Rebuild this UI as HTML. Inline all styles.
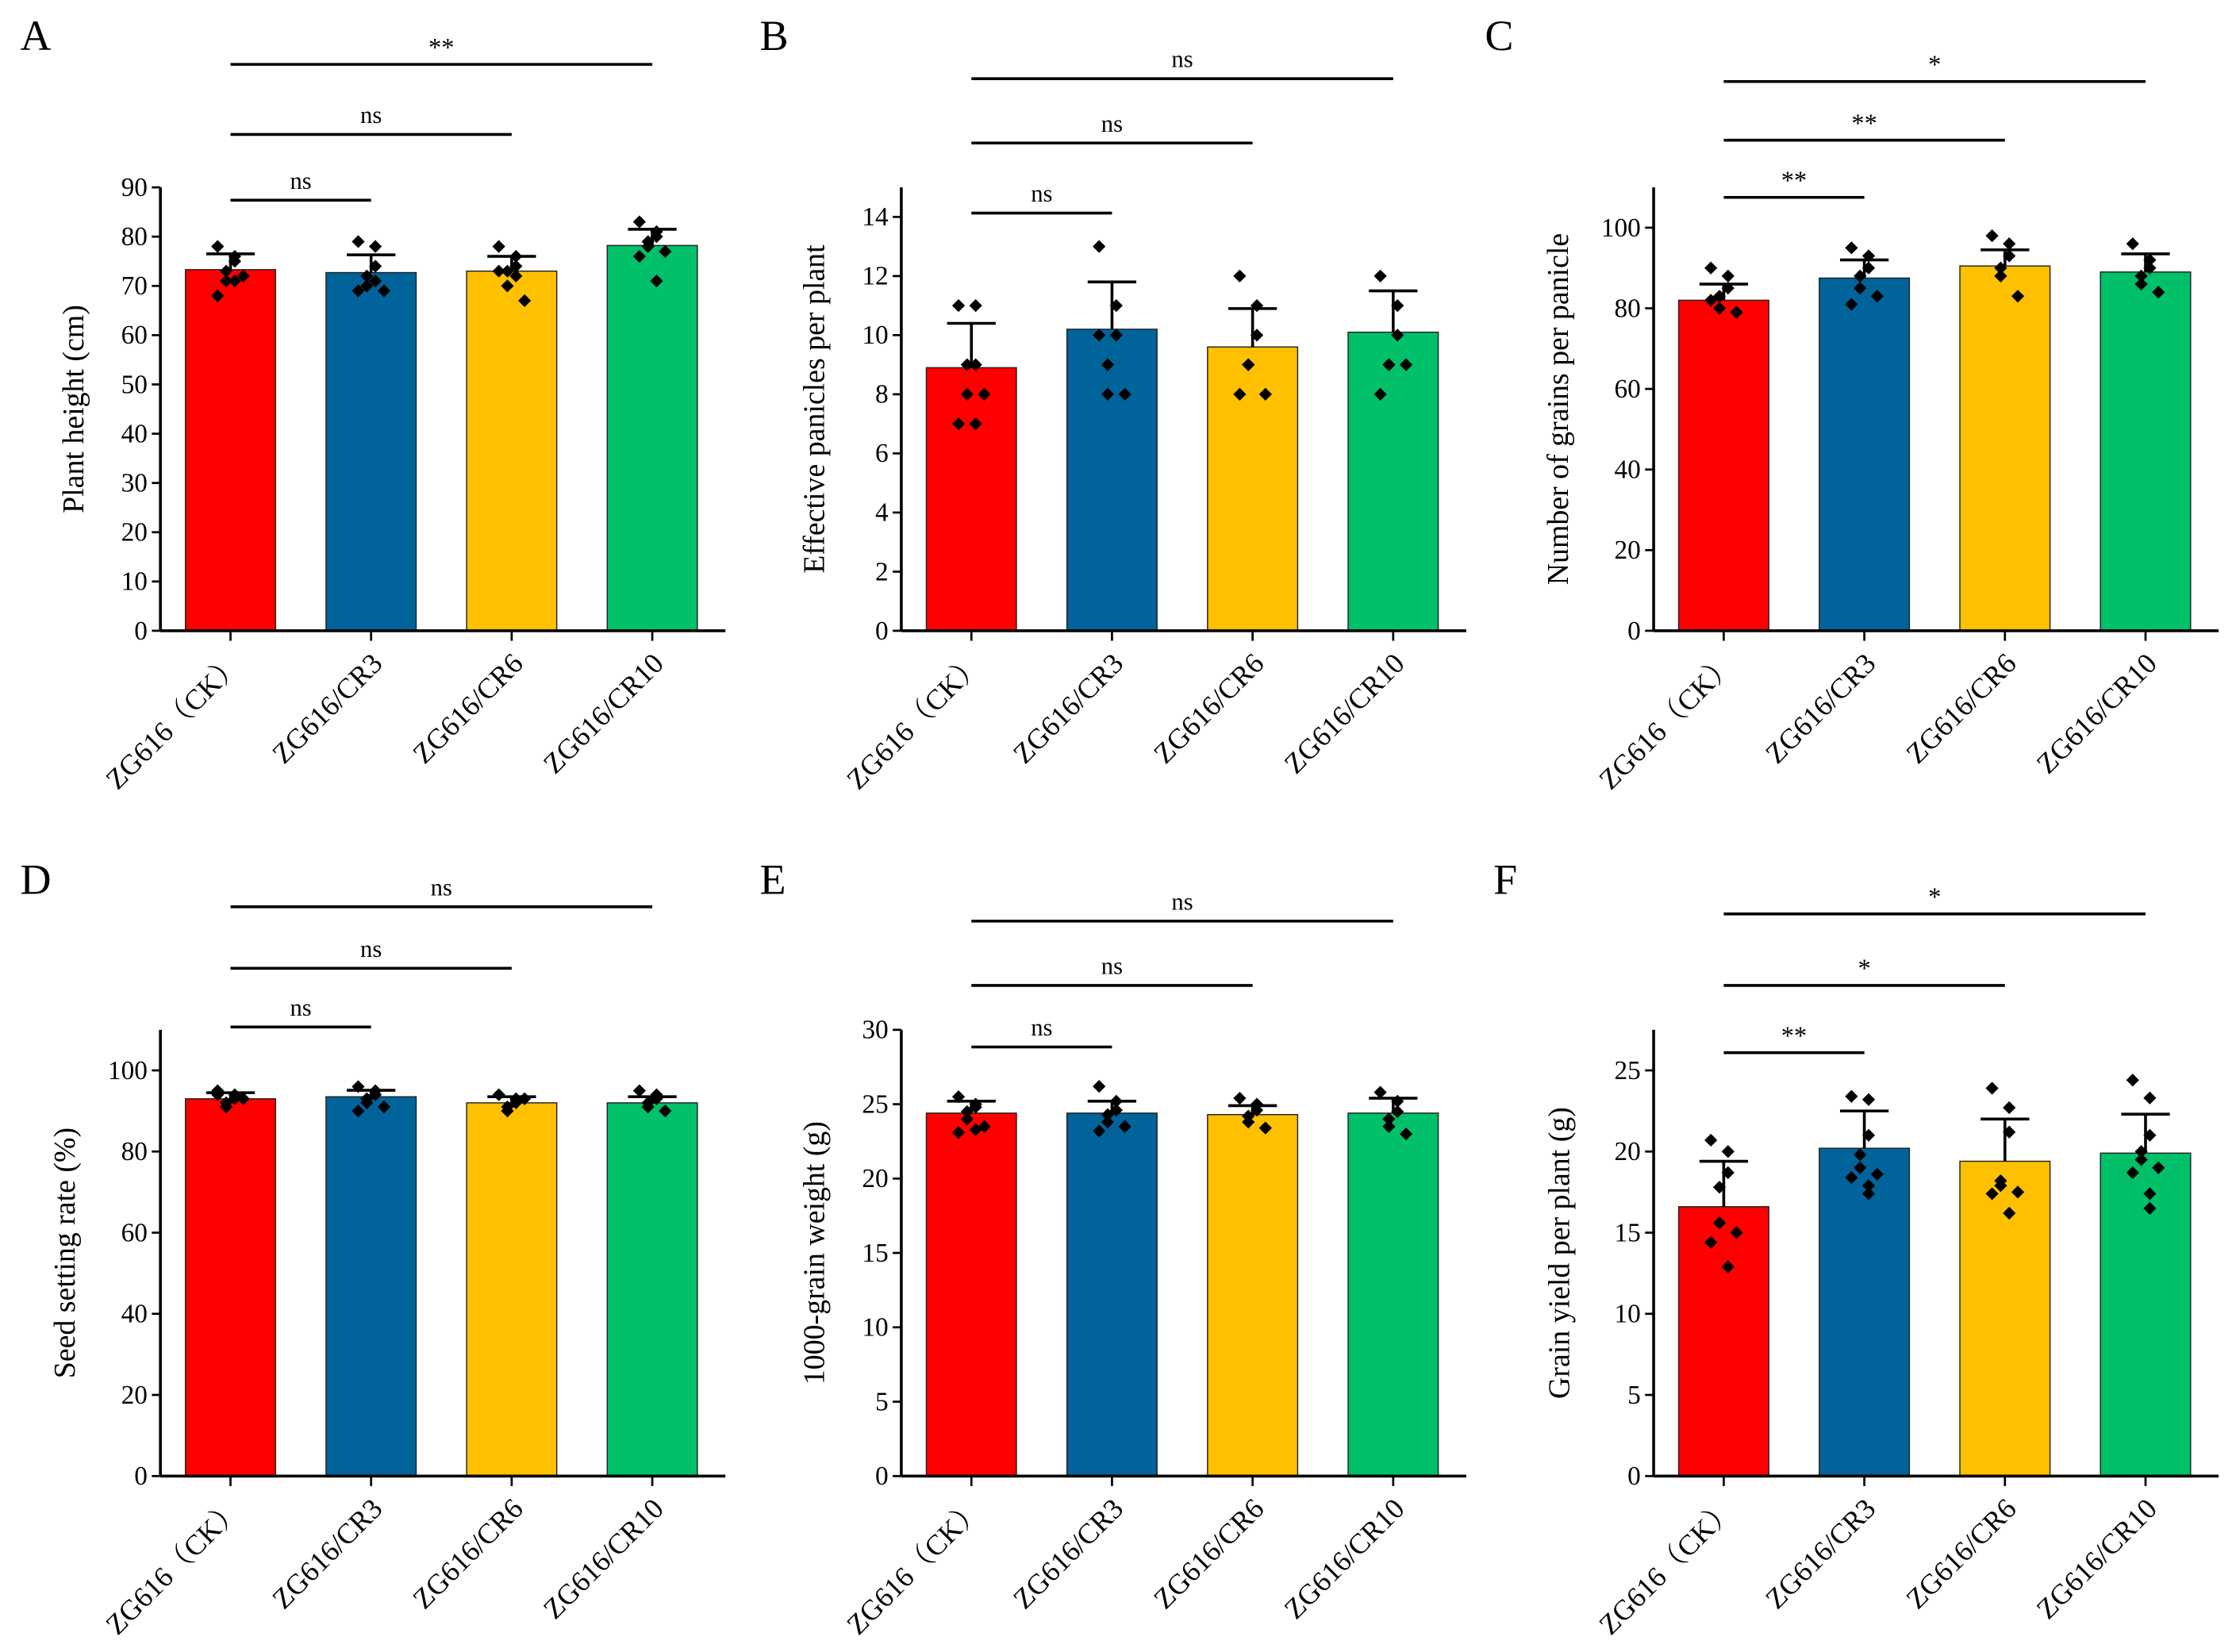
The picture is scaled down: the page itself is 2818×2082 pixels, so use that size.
<!DOCTYPE html>
<html><head><meta charset="utf-8"><style>
html,body{margin:0;padding:0;background:#fff;}
svg{display:block;font-family:"Liberation Serif","Noto Serif CJK SC",serif;}
</style></head><body>
<svg id="fig" width="2818" height="2082" viewBox="0 0 1563 1155" xmlns="http://www.w3.org/2000/svg"></svg>
<script>
// ---- data ----
const categories = ["ZG616\uFF08CK\uFF09","ZG616/CR3","ZG616/CR6","ZG616/CR10"];
const heightMeans = [73.3,72.7,73.0,78.2];
const heightErr = [3.2,3.6,3.0,3.3];
const heightPts = [[78,75,76,73,71,72,68,71],[79,78,74,72,70,69,69,71],[78,76,74,73,70,67,73,72],[83,81,80,79,78,77,76,71]];
const panicleMeans = [8.9,10.2,9.6,10.1];
const panicleErr = [1.5,1.6,1.3,1.4];
const paniclePts = [[11,11,9,9,8,8,7,7],[13,11,10,9,8,8,10],[12,11,10,9,9,8,8],[12,11,10,9,9,9,8]];
const grainsMeans = [82,87.5,90.5,89];
const grainsErr = [4,4.5,4,4.5];
const grainsPts = [[90,88,85,83,80,79,82],[95,93,90,88,85,83,81],[98,96,93,90,88,83],[96,92,90,88,86,84]];
const seedMeans = [93,93.5,92,92];
const seedErr = [1.5,1.6,1.5,1.5];
const seedPts = [[95,94,93,92,91,93,94],[96,95,94,93,92,91,90],[94,93,92,91,90,93],[95,94,93,92,91,90]];
const tgwMeans = [24.4,24.4,24.3,24.4];
const tgwErr = [0.8,0.8,0.6,1.0];
const tgwPts = [[25.5,25,24.8,24.5,24,23.5,23.1,23.3],[26.2,25.2,24.6,24.3,23.8,23.5,23.2],[25.4,25,24.6,24.2,23.8,23.4],[25.8,25.2,24.5,24,23.5,23]];
const yieldMeans = [16.6,20.2,19.4,19.9];
const yieldErr = [2.8,2.3,2.6,2.4];
const yieldPts = [[20.7,20,18.7,17.8,15.6,15,14.4,12.9],[23.4,23.2,21,19.8,19,18.6,18.4,17.9,17.4],[23.9,22.7,21.2,18.2,17.9,17.5,17.4,16.2],[24.4,23.3,21,20,19.5,19,18.7,17.4,16.5]];
const heightTicks = [0,10,20,30,40,50,60,70,80,90];
const panicleTicks = [0,2,4,6,8,10,12,14];
const grainsTicks = [0,20,40,60,80,100];
const seedTicks = [0,20,40,60,80,100];
const tgwTicks = [0,5,10,15,20,25,30];
const yieldTicks = [0,5,10,15,20,25];
const sigA = ["ns","ns","**"], sigB = ["ns","ns","ns"], sigC = ["**","**","*"];
const sigD = ["ns","ns","ns"], sigE = ["ns","ns","ns"], sigF = ["**","*","*"];

const colors = ["#ff0000","#00649b","#ffc000","#00c06a"];
const svg = document.getElementById('fig');
const NS = "http://www.w3.org/2000/svg";
function mk(tag, attrs, parent, text){
  const e = document.createElementNS(NS, tag);
  for (const k in attrs) e.setAttribute(k, attrs[k]);
  if (text !== undefined) e.textContent = text;
  (parent||svg).appendChild(e);
  return e;
}

const panels = [
 {id:"a",letter:"A",lx:14,ly:35,ax:112,y0:441,ytop:131,vtop:90,ticks:heightTicks,means:heightMeans,err:heightErr,pts:heightPts,title:"Plant height (cm)",tx:58,sig:sigA,sigY:[140,94,45]},
 {id:"b",letter:"B",lx:531,ly:35,ax:630,y0:441,ytop:131,vtop:15,ticks:panicleTicks,means:panicleMeans,err:panicleErr,pts:paniclePts,title:"Effective panicles per plant",tx:576,sig:sigB,sigY:[149,100,55]},
 {id:"c",letter:"C",lx:1038,ly:35,ax:1156,y0:441,ytop:131,vtop:110,ticks:grainsTicks,means:grainsMeans,err:grainsErr,pts:grainsPts,title:"Number of grains per panicle",tx:1096,sig:sigC,sigY:[138,98,57]},
 {id:"d",letter:"D",lx:14,ly:625,ax:112,y0:1032,ytop:720,vtop:110,ticks:seedTicks,means:seedMeans,err:seedErr,pts:seedPts,title:"Seed setting rate (%)",tx:52,sig:sigD,sigY:[718,677,634]},
 {id:"e",letter:"E",lx:531,ly:625,ax:630,y0:1032,ytop:720,vtop:30,ticks:tgwTicks,means:tgwMeans,err:tgwErr,pts:tgwPts,title:"1000-grain weight (g)",tx:576,sig:sigE,sigY:[732,689,644]},
 {id:"f",letter:"F",lx:1044,ly:625,ax:1156,y0:1032,ytop:720,vtop:27.5,ticks:yieldTicks,means:yieldMeans,err:yieldErr,pts:yieldPts,title:"Grain yield per plant (g)",tx:1097,sig:sigF,sigY:[736,689,639]}
];

panels.forEach(p=>{
  const g = mk('g',{});
  
  
  const vTop = p.vtop;
  const yScale = v => p.y0 - (v / vTop) * (p.y0 - p.ytop);
  const xScale = i => p.ax + 49 + i * 98.3;
  const L = mk('text',{x:p.lx,y:p.ly,'font-size':30},g,p.letter);
  
  
  p.means.forEach((m,i)=>{
    const r = mk('rect',{x:xScale(i)-31.5,y:yScale(m),width:63,height:p.y0-yScale(m),fill:colors[i],stroke:'#222','stroke-width':0.8},g);
    
    
  });
  p.means.forEach((m,i)=>{
    const cx = xScale(i), yt = yScale(m+p.err[i]);
    const e = mk('path',{d:`M${cx},${yScale(m)}V${yt}M${cx-17},${yt}H${cx+17}`,stroke:'#000','stroke-width':2,fill:'none'},g);
    
    
  });
  p.pts.forEach((arr,i)=>{
    arr.forEach((v,j)=>{
      const cx = xScale(i) + ((j%3)-1)*6 + (j%2?3:-3);
      const cy = yScale(v);
      const d = mk('path',{d:`M${cx},${cy-4.5}L${cx+4.5},${cy}L${cx},${cy+4.5}L${cx-4.5},${cy}Z`,fill:'#000'},g);
      
      
    });
  });
  const ya = mk('path',{d:`M${p.ax},${p.ytop}V${p.y0}`,stroke:'#000','stroke-width':2},g);
  
  
  const xa = mk('path',{d:`M${p.ax},${p.y0}H${p.ax+395}`,stroke:'#000','stroke-width':2},g);
  
  
  p.ticks.forEach(t=>{
    const y = yScale(t);
    mk('path',{d:`M${p.ax-6},${y}H${p.ax}`,stroke:'#000','stroke-width':1.5},g);
    const tl = mk('text',{x:p.ax-9,y:y+6,'font-size':18.5,'text-anchor':'end'},g,String(t));
    
    
  });
  categories.forEach((c,i)=>{
    const x = xScale(i);
    mk('path',{d:`M${x},${p.y0}V${p.y0+7}`,stroke:'#000','stroke-width':1.5},g);
    const xl = mk('text',{x:x+9,y:p.y0+24,'font-size':20,'text-anchor':'end',transform:`rotate(-45 ${x+9} ${p.y0+24})`},g,c);
    
    
  });
  const cy = (p.y0+p.ytop)/2;
  const yt = mk('text',{x:p.tx,y:cy,'font-size':21,'text-anchor':'middle',transform:`rotate(-90 ${p.tx} ${cy})`},g,p.title);
  
  
  p.sig.forEach((s,k)=>{
    const x1 = xScale(0), x2 = xScale(k+1), y = p.sigY[k];
    const ln = mk('path',{d:`M${x1},${y}H${x2}`,stroke:'#000','stroke-width':2},g);
    
    
    const st = mk('text',{x:(x1+x2)/2,y:y-(s==='ns'?8:6),'font-size':s==='ns'?17:18,'text-anchor':'middle'},g,s);
    
    
  });
});
</script>
</body></html>
